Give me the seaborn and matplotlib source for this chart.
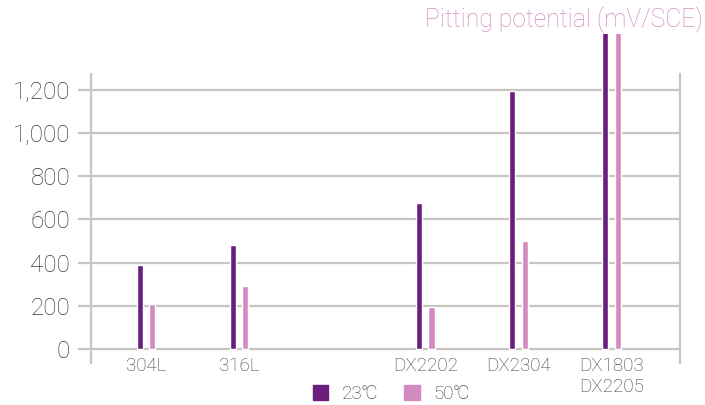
import pandas as pd
import matplotlib
matplotlib.use("Agg")
import matplotlib.pyplot as plt
from matplotlib.patches import Patch
import seaborn as sns

# data
grades = ['304L', '316L', 'DX2202', 'DX2304', 'DX1803\nDX2205']
pit_23 = [390, 480, 675, 1195, 1500]
pit_50 = [210, 290, 195, 500, 1500]
temps = ['23℃', '50℃']
yticks = [0, 200, 400, 600, 800, 1000, 1200]

# empty slot between 316L and DX2202
order = ['304L', '316L', ' ', 'DX2202', 'DX2304', 'DX1803\nDX2205']

DARK = '#6B1F7C'
LIGHT = '#D38BBF'
GRID = '#CAC4C1'
TXT = '#3C3C3C'

df = pd.DataFrame({
    'grade': grades * 2,
    'temp': [temps[0]] * len(grades) + [temps[1]] * len(grades),
    'value': pit_23 + pit_50,
})

sns.set_style('white')
plt.rcParams['font.family'] = ['Roboto', 'DejaVu Sans']
plt.rcParams['font.weight'] = 'light'

fig = plt.figure(figsize=(7.05, 4.05), dpi=100)
W, H = 705, 405
ax = fig.add_axes([91 / W, 1 - 363 / H, (679.5 - 91) / W, (363 - 34) / H])

sns.barplot(data=df, x='grade', y='value', hue='temp', order=order,
            hue_order=temps, palette=[DARK, LIGHT], width=0.27, gap=0.5,
            saturation=1, legend=False, ax=ax, zorder=3)

ax.set_xlim(-0.59, 5.73)
ax.set_ylim(-65, 1459)
ax.set_yticks(yticks)
ax.set_yticklabels([f'{v:,}' for v in yticks])
ax.set_xlabel('')
ax.set_ylabel('')

ax.grid(axis='y', color=GRID, linewidth=1.6, zorder=0)
ax.grid(axis='x', visible=False)
ax.set_axisbelow(True)

for s in ['top', 'bottom']:
    ax.spines[s].set_visible(False)
for s in ['left', 'right']:
    ax.spines[s].set_visible(True)
    ax.spines[s].set_color(GRID)
    ax.spines[s].set_linewidth(1.6)
    ax.spines[s].set_bounds(-65, 1274)

ax.tick_params(axis='y', length=9.5, width=1.6, color=GRID, pad=5.5,
               labelsize=17.5, labelcolor=TXT, left=True)
ax.tick_params(axis='x', length=0, pad=-4, labelsize=13.5, labelcolor=TXT)

fig.text(703 / W, 1 - 20 / H, 'Pitting potential (mV/SCE)', color=LIGHT,
         fontsize=17.8, ha='right', va='center')

handles = [Patch(color=DARK, label=temps[0]), Patch(color=LIGHT, label=temps[1])]
fig.legend(handles=handles, loc='center', bbox_to_anchor=(391 / W, 1 - 394 / H),
           ncol=2, frameon=False, fontsize=13.5, handlelength=0.85, handleheight=0.85,
           handletextpad=0.7, columnspacing=1.4, labelcolor=TXT)

fig.savefig('out.png', dpi=100)
